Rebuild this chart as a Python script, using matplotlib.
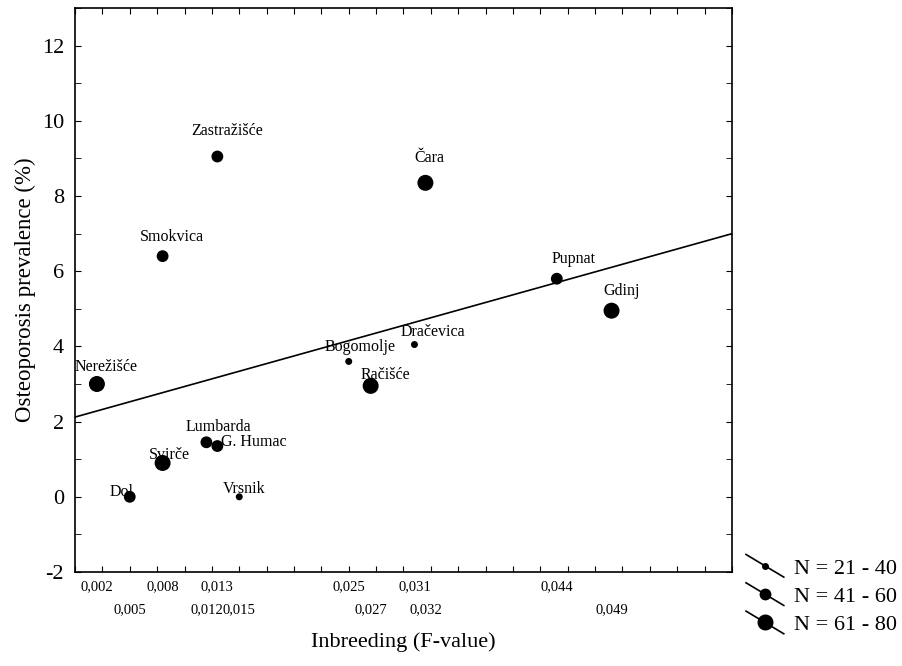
import numpy as np
import matplotlib
matplotlib.use("Agg")
import matplotlib.pyplot as plt
from matplotlib.lines import Line2D
from matplotlib.legend_handler import HandlerBase
from matplotlib.ticker import MultipleLocator, NullFormatter

plt.rcParams['font.family'] = ['Liberation Serif', 'DejaVu Serif']
plt.rcParams['axes.unicode_minus'] = False

# Villages: inbreeding coefficient, osteoporosis prevalence, sample size group
villages = ['Nerežišće', 'Dol', 'Svirče', 'Lumbarda', 'G. Humac', 'Vrsnik',
            'Zastražišće', 'Smokvica', 'Čara', 'Bogomolje', 'Račišće',
            'Dračevica', 'Pupnat', 'Gdinj']
f_value = [0.002, 0.005, 0.008, 0.012, 0.013, 0.015, 0.013, 0.008,
           0.032, 0.025, 0.027, 0.031, 0.044, 0.049]
prevalence = [3.0, 0.0, 0.9, 1.45, 1.35, 0.0, 9.05, 6.4,
              8.35, 3.6, 2.95, 4.05, 5.8, 4.95]
n_group = [3, 2, 3, 2, 2, 1, 2, 2, 3, 1, 3, 1, 2, 3]

group_labels = ['N = 21 - 40', 'N = 41 - 60', 'N = 61 - 80']

# x tick labels sit on two rows
tick_f = [0.002, 0.005, 0.008, 0.012, 0.013, 0.015, 0.025, 0.027,
          0.031, 0.032, 0.044, 0.049]
tick_row = [1, 2, 1, 2, 1, 2, 1, 2, 1, 2, 1, 2]

# fitted regression line
intercept = 2.12
slope = 81.3

marker_size = {1: 4.0, 2: 7.5, 3: 10.5}

# label offsets in pixels (dx, dy, ha)
label_offset = {
    'Nerežišće': (9, 17, 'center'), 'Dol': (-8, 5, 'center'),
    'Svirče': (7, 8, 'center'), 'Lumbarda': (12, 15, 'center'),
    'G. Humac': (4, 4, 'left'), 'Vrsnik': (5, 8, 'center'),
    'Zastražišće': (10, 26, 'center'), 'Smokvica': (9, 19, 'center'),
    'Čara': (4, 25, 'center'), 'Bogomolje': (11, 14, 'center'),
    'Račišće': (15, 11, 'center'), 'Dračevica': (18, 13, 'center'),
    'Pupnat': (17, 20, 'center'), 'Gdinj': (10, 20, 'center'),
}


class SlantHandler(HandlerBase):
    def create_artists(self, legend, orig_handle, xdescent, ydescent,
                       width, height, fontsize, trans):
        x0 = -xdescent
        x1 = -xdescent + width
        yc = -ydescent + height / 2
        line = Line2D([x0, x1], [yc + 0.3 * width, yc - 0.3 * width],
                      color='black', lw=1.2)
        dot = Line2D([(x0 + x1) / 2], [yc], marker='o', ls='none',
                     color='black', ms=orig_handle.get_markersize())
        line.set_transform(trans)
        dot.set_transform(trans)
        return [line, dot]


fig = plt.figure(figsize=(9.03, 6.66), dpi=100)
ax = fig.add_axes([75 / 903, 1 - 572 / 666, 657 / 903, 564 / 666])

x = np.array(f_value)
y = np.array(prevalence)
sizes = np.array([marker_size[g] ** 2 for g in n_group])
ax.scatter(x, y, s=sizes, color='black', zorder=3)

xs = np.array([0, 0.06])
ax.plot(xs, intercept + slope * xs, color='black', lw=1.2)

for name, fx, py in zip(villages, f_value, prevalence):
    dx, dy, ha = label_offset[name]
    ax.annotate(name, (fx, py), xytext=(dx, dy), textcoords='offset pixels',
                ha=ha, va='center', fontsize=11.5)

ax.set_xlim(0, 0.06)
ax.set_ylim(-2, 13)

# F-value labels under the axis, alternating between two rows
ax.xaxis.set_major_locator(MultipleLocator(0.0025))
ax.xaxis.set_major_formatter(NullFormatter())
ax.tick_params(axis='x', which='major', direction='in', length=4,
               top=True, bottom=True)
for f, r in zip(tick_f, tick_row):
    ax.annotate(('%.3f' % f).replace('.', ','), (f, 0),
                xycoords=ax.get_xaxis_transform(),
                xytext=(0, -15 if r == 1 else -38), textcoords='offset pixels',
                ha='center', va='center', fontsize=10.5)

ax.set_yticks(np.arange(-2, 13, 2))
ax.yaxis.set_minor_locator(MultipleLocator(1))
ax.tick_params(axis='y', which='both', direction='in', length=4,
               left=True, right=True, labelsize=16, pad=8)

for sp in ax.spines.values():
    sp.set_linewidth(1.2)

ax.set_xlabel('Inbreeding (F-value)', fontsize=16, labelpad=40)
ax.set_ylabel('Osteoporosis prevalence (%)', fontsize=16.5, labelpad=4)

handles = [Line2D([], [], marker='o', color='black', ms=marker_size[g])
           for g in (1, 2, 3)]
fig.legend(handles, group_labels, handler_map={Line2D: SlantHandler()},
           loc='upper left', bbox_to_anchor=(746 / 903, 1 - 558 / 666),
           frameon=False, fontsize=16, handlelength=1.7, handletextpad=0.45,
           labelspacing=0.35, borderpad=0, borderaxespad=0)

fig.savefig('out.png', dpi=100)
